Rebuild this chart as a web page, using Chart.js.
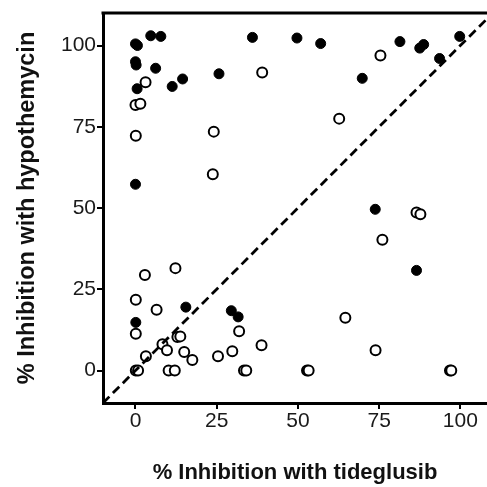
<!DOCTYPE html>
<html>
<head>
<meta charset="utf-8">
<script src="https://cdn.jsdelivr.net/npm/chart.js@4"></script>
<style>
  html, body { margin: 0; padding: 0; background: #fff; }
  #wrap { width: 487px; height: 487px; }
</style>
</head>
<body>
<div id="wrap"><canvas id="myChart" width="487" height="487"></canvas></div>
<script>
// filled circles
const filledX = [0, 0.6, 0, 0.2, 6.2, 0.5, 4.7, 7.8, 11.3, 14.5, 25.7, 36, 0, 49.7, 57, 81.4, 87.5, 88.7, 93.6, 99.8, 69.8, 0.1, 15.5, 29.5, 31.6, 73.8, 86.5];
const filledY = [100.5, 100, 95, 94, 93, 86.7, 103, 102.8, 87.4, 89.7, 91.3, 102.5, 57.3, 102.3, 100.6, 101.2, 99.2, 100.3, 96, 102.8, 89.9, 14.8, 19.5, 18.4, 16.5, 49.6, 30.8];

// open circles
const openX = [3.1, 0, 1.5, 0.1, 24.1, 39, 23.8, 75.4, 62.7, 12.3, 2.9, 0.1, 6.5, 0.1, 8.3, 9.7, 12.9, 13.8, 3.2, 15, 17.5, 0.1, 0.8, 10.2, 12.1, 25.4, 29.8, 31.9, 38.8, 33.4, 34.1, 86.5, 87.7, 76, 64.6, 73.9, 52.8, 53.3, 96.8, 97.2];
const openY = [88.7, 81.7, 82.1, 72.2, 73.5, 91.7, 60.4, 96.9, 77.5, 31.5, 29.4, 21.8, 18.7, 11.3, 8.1, 6.2, 10.3, 10.5, 4.4, 5.7, 3.2, 0, 0, 0, 0, 4.4, 5.9, 12.1, 7.8, 0, 0, 48.6, 48.1, 40.2, 16.2, 6.2, 0, 0, 0, 0];

// line of identity y = x
const identityLine = [-10, 110];

const tickValues = [0, 25, 50, 75, 100];

const toPoints = (xs, ys) => xs.map((x, i) => ({ x: x, y: ys[i] }));

const topBorder = {
  id: "topBorder",
  afterDraw(chart) {
    const { ctx, chartArea } = chart;
    ctx.save();
    ctx.strokeStyle = "#000";
    ctx.lineWidth = 3;
    ctx.beginPath();
    ctx.moveTo(chartArea.left - 1.5, chartArea.top);
    ctx.lineTo(chartArea.right, chartArea.top);
    ctx.stroke();
    ctx.restore();
  },
};

const fam = "'Liberation Sans', Arial, sans-serif";
const tickFont = { family: fam, size: 21 };

new Chart(document.getElementById("myChart"), {
  type: "scatter",
  data: {
    datasets: [
      {
        label: "identity",
        data: identityLine.map((v) => ({ x: v, y: v })),
        showLine: true,
        borderColor: "#000",
        borderWidth: 2.8,
        borderDash: [9, 5],
        pointRadius: 0,
        order: 0,
      },
      {
        label: "filled",
        data: toPoints(filledX, filledY),
        backgroundColor: "#000",
        borderColor: "#000",
        borderWidth: 1,
        pointRadius: 5,
        order: 2,
      },
      {
        label: "open",
        data: toPoints(openX, openY),
        backgroundColor: "#fff",
        borderColor: "#000",
        borderWidth: 2,
        pointRadius: 5,
        order: 1,
      },
    ],
  },
  options: {
    responsive: false,
    animation: false,
    layout: { autoPadding: false, padding: { left: 0, right: 0, top: 13, bottom: 0 } },
    plugins: { legend: { display: false }, tooltip: { enabled: false } },
    scales: {
      x: {
        type: "linear",
        min: -10,
        max: 108.2,
        afterBuildTicks: (axis) => { axis.ticks = tickValues.map((v) => ({ value: v })); },
        afterFit: (axis) => { axis.height = 84; axis.paddingLeft = 0; axis.paddingRight = 0; },
        border: { display: true, color: "#000", width: 3 },
        grid: { drawOnChartArea: false, drawTicks: true, tickLength: 6, color: "#000", lineWidth: 2 },
        ticks: { color: "#1a1a1a", font: tickFont, padding: 0, maxRotation: 0 },
        title: { display: true, text: "% Inhibition with tideglusib", color: "#111", font: { family: fam, size: 22, weight: "bold" }, padding: { top: 0, bottom: 1 } },
      },
      y: {
        type: "linear",
        min: -10,
        max: 110,
        afterBuildTicks: (axis) => { axis.ticks = tickValues.map((v) => ({ value: v })); },
        afterFit: (axis) => { axis.width = 103; axis.paddingTop = 0; axis.paddingBottom = 0; },
        border: { display: true, color: "#000", width: 3 },
        grid: { drawOnChartArea: false, drawTicks: true, tickLength: 6, color: "#000", lineWidth: 2 },
        ticks: { color: "#1a1a1a", font: tickFont, padding: 1 },
        title: { display: true, text: "% Inhibition with hypothemycin", color: "#111", font: { family: fam, size: 23.5, weight: "bold" }, padding: { top: 13, bottom: 0 } },
      },
    },
  },
  plugins: [topBorder],
});
</script>
</body>
</html>
